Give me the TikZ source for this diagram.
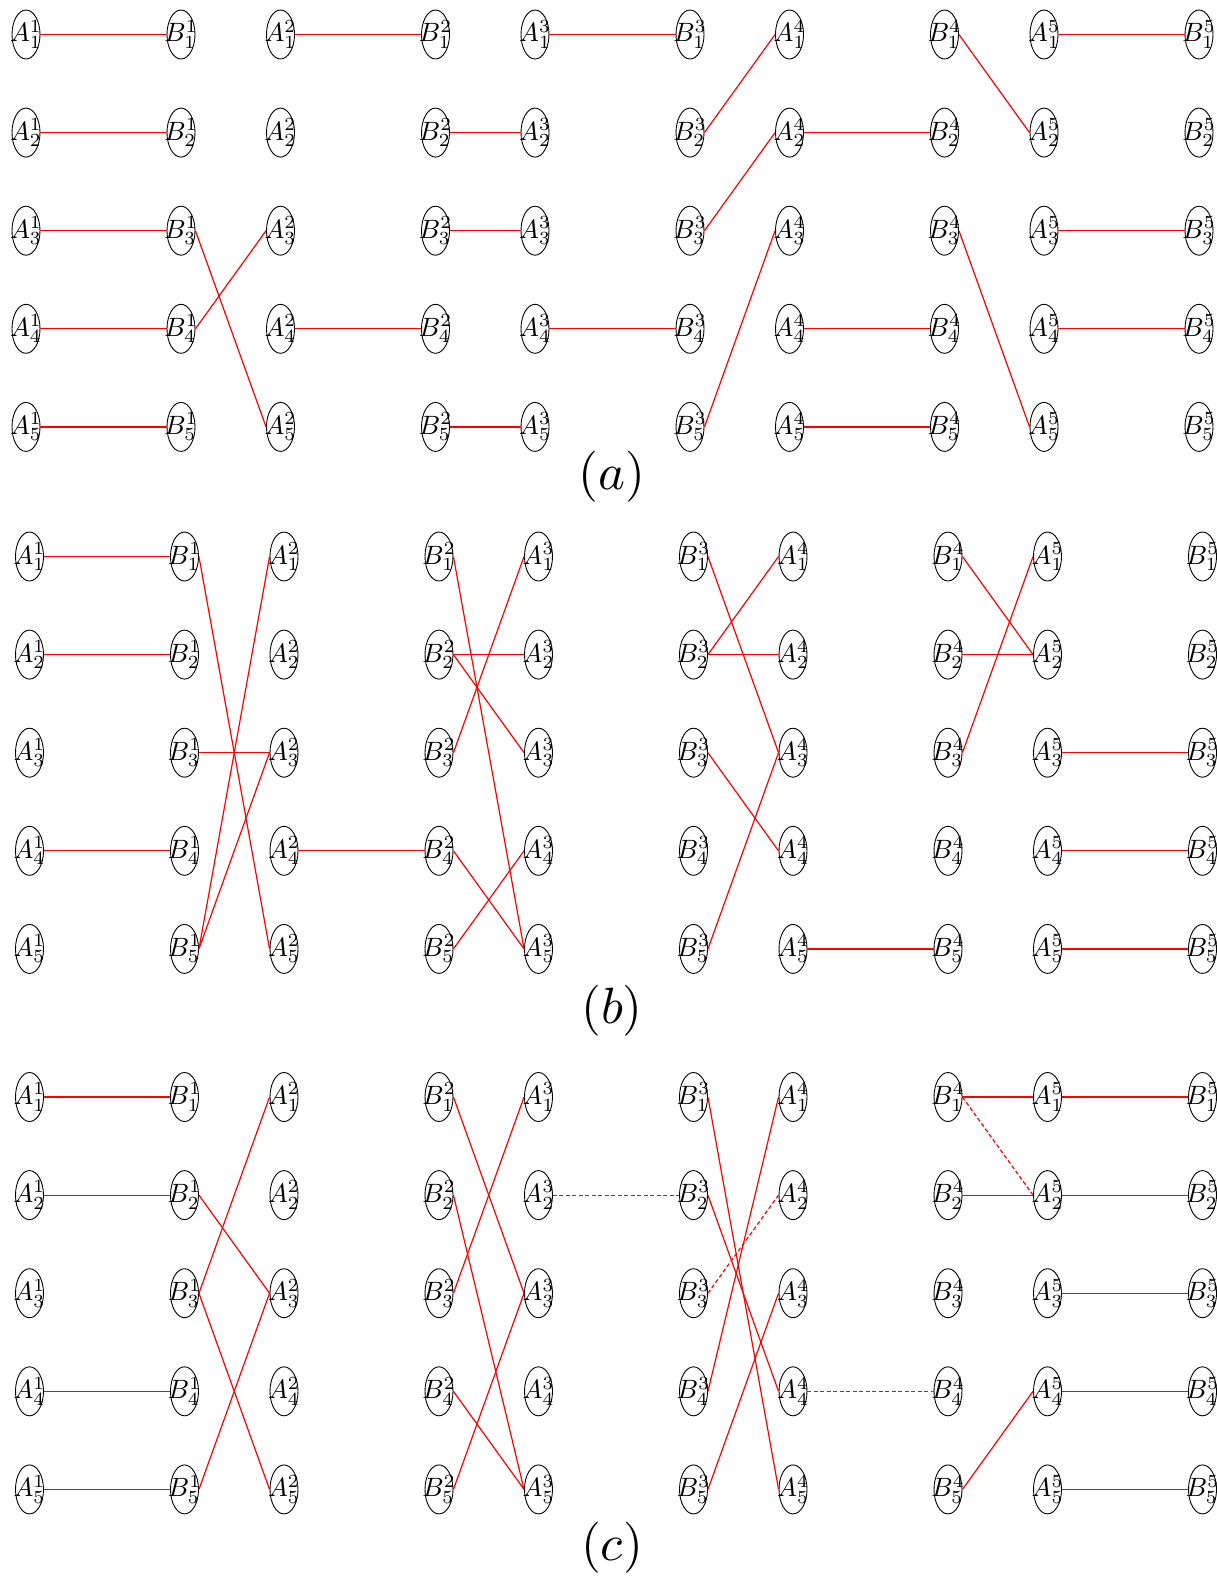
\documentclass[tikz,border=0pt]{standalone}
\usepackage{graphicx}
\usetikzlibrary{shapes.geometric}
\newcommand{\vlab}[1]{\makebox[0pt]{\scalebox{2.65}{$#1$}}}
\begin{document}
\begin{tikzpicture}[x=1pt,y=-1pt,
  vtx/.style={draw, ellipse, line width=0.9pt, minimum width=28pt, minimum height=49pt, inner sep=0pt},
  lnk/.style={red, line width=1.2pt},
  dlnk/.style={red, line width=1.2pt, dash pattern=on 4pt off 2.5pt},
  capt/.style={inner sep=0pt}]
\useasboundingbox (0,0) rectangle (1217,1577);
\foreach \p/\xo/\yo in {a/26/34.5, b/29.5/556.5, c/29.5/1097} {
  \foreach \k in {1,...,5} {
    \foreach \i in {1,...,5} {
      \node[vtx] (\p A\k-\i) at ({\xo+254.5*(\k-1)}, {\yo+98.1*(\i-1)}) {\vlab{A^{\k}_{\i}}};
      \node[vtx] (\p B\k-\i) at ({\xo+155+254.5*(\k-1)}, {\yo+98.1*(\i-1)}) {\vlab{B^{\k}_{\i}}};
    }
  }
}
% panel (a)
\foreach \s/\t in {aA1-1/aB1-1, aA1-2/aB1-2, aA1-3/aB1-3, aA1-4/aB1-4, aA1-5/aB1-5,
  aB1-3/aA2-5, aB1-4/aA2-3,
  aA2-1/aB2-1, aA2-4/aB2-4,
  aB2-2/aA3-2, aB2-3/aA3-3, aB2-5/aA3-5,
  aA3-1/aB3-1, aA3-4/aB3-4,
  aB3-2/aA4-1, aB3-3/aA4-2, aB3-5/aA4-3,
  aA4-2/aB4-2, aA4-4/aB4-4, aA4-5/aB4-5,
  aB4-1/aA5-2, aB4-3/aA5-5,
  aA5-1/aB5-1, aA5-3/aB5-3, aA5-4/aB5-4}
  \draw[lnk] (\s.east) -- (\t.west);
% panel (b)
\foreach \s/\t in {bA1-1/bB1-1, bA1-2/bB1-2, bA1-4/bB1-4,
  bB1-1/bA2-5, bB1-3/bA2-3, bB1-5/bA2-1, bB1-5/bA2-3,
  bA2-4/bB2-4,
  bB2-1/bA3-5, bB2-2/bA3-2, bB2-2/bA3-3, bB2-3/bA3-1, bB2-4/bA3-5, bB2-5/bA3-4,
  bB3-1/bA4-3, bB3-2/bA4-1, bB3-2/bA4-2, bB3-3/bA4-4, bB3-5/bA4-3,
  bA4-5/bB4-5,
  bB4-1/bA5-2, bB4-2/bA5-2, bB4-3/bA5-1,
  bA5-3/bB5-3, bA5-4/bB5-4, bA5-5/bB5-5}
  \draw[lnk] (\s.east) -- (\t.west);
% panel (c)
\foreach \s/\t in {cA1-1/cB1-1, cA1-2/cB1-2, cA1-4/cB1-4, cA1-5/cB1-5,
  cB1-2/cA2-3, cB1-3/cA2-1, cB1-3/cA2-5, cB1-5/cA2-3,
  cB2-1/cA3-3, cB2-2/cA3-5, cB2-3/cA3-1, cB2-4/cA3-5, cB2-5/cA3-3,
  cB3-1/cA4-5, cB3-2/cA4-4, cB3-4/cA4-1, cB3-5/cA4-3,
  cB4-1/cA5-1, cB4-2/cA5-2, cB4-5/cA5-4,
  cA5-1/cB5-1, cA5-2/cB5-2, cA5-3/cB5-3, cA5-4/cB5-4, cA5-5/cB5-5}
  \draw[lnk] (\s.east) -- (\t.west);
\foreach \s/\t in {cA3-2/cB3-2, cB3-3/cA4-2, cA4-4/cB4-4, cB4-1/cA5-2}
  \draw[dlnk] (\s.east) -- (\t.west);
\node[capt] (capa) at (612,477) {\scalebox{5.1}{$(a)$}};
\node[capt] (capb) at (612,1011) {\scalebox{5.1}{$(b)$}};
\node[capt] (capc) at (612,1548) {\scalebox{5.1}{$(c)$}};
\end{tikzpicture}
\end{document}
